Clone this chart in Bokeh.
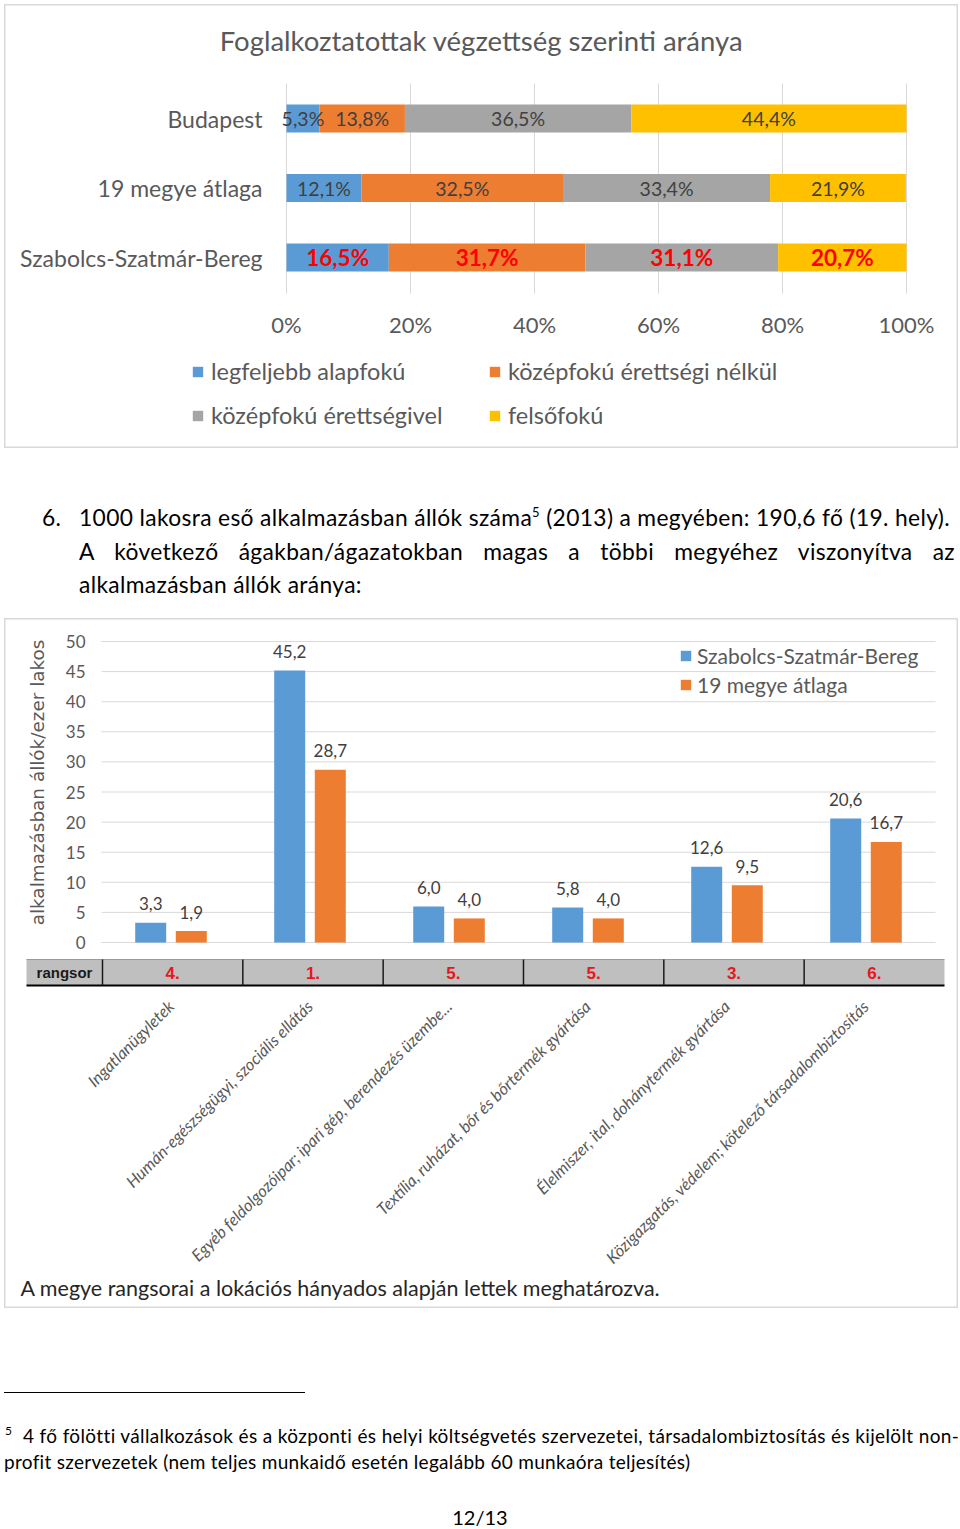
import numpy as np
from math import pi
from bokeh.plotting import figure
from bokeh.layouts import column
from bokeh.models import Range1d, LinearAxis, FixedTicker, ColumnDataSource, Legend, LegendItem, Div
from bokeh.core.properties import value
from bokeh.embed import file_html
from bokeh.resources import INLINE

# ---------------- data: chart 1 ----------------
regions = ["Szabolcs-Szatmár-Bereg", "19 megye átlaga", "Budapest"]
edu_levels = ["legfeljebb alapfokú", "középfokú érettségi nélkül",
              "középfokú érettségivel", "felsőfokú"]
edu_basic = [16.5, 12.1, 5.3]
edu_sec_no_exam = [31.7, 32.5, 13.8]
edu_sec_exam = [31.1, 33.4, 36.5]
edu_higher = [20.7, 21.9, 44.4]
x_ticks_1 = [0, 20, 40, 60, 80, 100]

# ---------------- data: chart 2 ----------------
sectors = ["Ingatlanügyletek",
           "Humán-egészségügyi, szociális ellátás",
           "Egyéb feldolgozóipar; ipari gép, berendezés üzembe...",
           "Textília, ruházat, bőr és bőrtermék gyártása",
           "Élelmiszer, ital, dohánytermék gyártása",
           "Közigazgatás, védelem; kötelező társadalombiztosítás"]
series2 = ["Szabolcs-Szatmár-Bereg", "19 megye átlaga"]
val_szabolcs = [3.3, 45.2, 6.0, 5.8, 12.6, 20.6]
val_avg19 = [1.9, 28.7, 4.0, 4.0, 9.5, 16.7]
ranks = ["4.", "1.", "5.", "5.", "3.", "6."]
y_ticks_2 = [0, 5, 10, 15, 20, 25, 30, 35, 40, 45, 50]


def fmt(v, pct=False):
    s = f"{v:.1f}".replace(".", ",")
    return s + "%" if pct else s


GRAY_TXT = "#595959"
LBL_TXT = "#404040"
FONT = "Lato"
TABLE_FONT = "Liberation Sans"


def no_ticks(ax):
    ax.axis_line_color = None
    ax.major_tick_line_color = None
    ax.minor_tick_line_color = None
    ax.major_tick_out = 0
    ax.major_tick_in = 0
    ax.minor_tick_out = 0
    ax.minor_tick_in = 0


# ======================= chart 1 =======================
W1, H1 = 954, 444


def X1(px):
    return (px - 282) / 620 * 100


def Y1(py):
    return (253 - py) / 69.5


p1 = figure(width=W1, height=H1, x_range=Range1d(X1(0), X1(W1)), y_range=Range1d(Y1(H1), Y1(0)),
            output_backend="svg", toolbar_location=None, min_border=0,
            x_axis_type=None, y_axis_type=None, title_location=None)
p1.margin = (4, 2, 0, 4)
p1.outline_line_color = "#d9d9d9"
p1.outline_line_width = 2
p1.background_fill_color = "white"

p1.segment(x0=x_ticks_1, y0=Y1(79), x1=x_ticks_1, y1=Y1(289), line_color="#d9d9d9", line_width=1)

levels_vals = [edu_basic, edu_sec_no_exam, edu_sec_exam, edu_higher]
colors1 = ["#5b9bd5", "#ed7d31", "#a5a5a5", "#ffc000"]
ypos = np.arange(len(regions))
left = np.zeros(len(regions))
bars1 = []
lab_n = dict(x=[], y=[], t=[])
lab_b = dict(x=[], y=[], t=[])
for k, vals in enumerate(levels_vals):
    v = np.array(vals, dtype=float)
    r = p1.hbar(y=ypos, left=left, right=left + v, height=0.403,
                fill_color=colors1[k], line_color=None)
    bars1.append(r)
    for i in range(len(regions)):
        d = lab_b if i == 0 else lab_n
        d["x"].append(left[i] + v[i] / 2)
        d["y"].append(ypos[i])
        d["t"].append(fmt(v[i], True))
    left = left + v

p1.text(x="x", y="y", text="t", source=ColumnDataSource(lab_n), text_align="center",
        text_baseline="middle", text_font=value(FONT), text_font_size="19.5px", text_color=LBL_TXT)
p1.text(x="x", y="y", text="t", source=ColumnDataSource(lab_b), text_align="center",
        text_baseline="middle", text_font=value(FONT), text_font_size="22.5px",
        text_font_style="bold", text_color="#ff0000")

p1.text(x=[X1(477)], y=[Y1(36)], text=["Foglalkoztatottak végzettség szerinti aránya"],
        text_align="center", text_baseline="middle", text_font=value(FONT),
        text_font_size="27.5px", text_color=GRAY_TXT)

yax1 = LinearAxis(fixed_location=0, ticker=FixedTicker(ticks=list(ypos)),
                  major_label_overrides={int(i): regions[i] for i in ypos})
no_ticks(yax1)
yax1.major_label_standoff = 24
yax1.major_label_text_font = FONT
yax1.major_label_text_font_size = "23px"
yax1.major_label_text_color = GRAY_TXT
p1.add_layout(yax1, "left")

xax1 = LinearAxis(fixed_location=Y1(289), ticker=FixedTicker(ticks=x_ticks_1),
                  major_label_overrides={t: f"{t}%" for t in x_ticks_1})
no_ticks(xax1)
xax1.major_label_standoff = 17
xax1.major_label_text_font = FONT
xax1.major_label_text_font_size = "22px"
xax1.major_label_text_color = GRAY_TXT
p1.add_layout(xax1, "below")

leg1 = Legend(items=[LegendItem(label=edu_levels[k], renderers=[bars1[k]]) for k in range(4)],
              location=(187, 19), orientation="horizontal", ncols=2)
leg1.glyph_width = 13
leg1.glyph_height = 13
leg1.label_standoff = 7
leg1.spacing = 16
leg1.padding = 0
leg1.margin = 0
leg1.label_width = 261
leg1.label_height = 28
leg1.border_line_color = None
leg1.background_fill_alpha = 0
leg1.label_text_font = FONT
leg1.label_text_font_size = "23.5px"
leg1.label_text_color = GRAY_TXT
p1.add_layout(leg1)

# ======================= paragraph =======================
para = """
<div style="position:relative;width:960px;height:170px;font-family:'Lato',sans-serif;color:#000;font-size:22.8px;letter-spacing:0.35px;">
<div style="position:absolute;left:42px;top:54px;line-height:30px;">6.</div>
<div style="position:absolute;left:79px;top:54px;line-height:30px;white-space:nowrap;">1000 lakosra eső alkalmazásban állók száma<sup style="font-size:13px;line-height:0;">5</sup> (2013) a megyében: 190,6 fő (19. hely).</div>
<div style="position:absolute;left:79px;top:88px;width:876px;line-height:30px;text-align:justify;text-align-last:justify;">A következő ágakban/ágazatokban magas a többi megyéhez viszonyítva az</div>
<div style="position:absolute;left:79px;top:121px;line-height:30px;white-space:nowrap;">alkalmazásban állók aránya:</div>
</div>
"""
div1 = Div(text=para, width=960, height=170)
div1.margin = (0, 0, 0, 0)

# ======================= chart 2 =======================
W2, H2 = 954, 690


def X2(px):
    return (px - 166.5) / 139


def Y2(py):
    return (324 - py) / 6.02


p2 = figure(width=W2, height=H2, x_range=Range1d(X2(0), X2(W2)), y_range=Range1d(Y2(H2), Y2(0)),
            output_backend="svg", toolbar_location=None, min_border=0,
            x_axis_type=None, y_axis_type=None, title_location=None)
p2.margin = (0, 2, 0, 4)
p2.outline_line_color = "#d9d9d9"
p2.outline_line_width = 2

p2.segment(x0=X2(97), y0=y_ticks_2, x1=X2(931), y1=y_ticks_2, line_color="#d9d9d9", line_width=1)

idx = np.arange(len(sectors))
off = 0.146
bw = 0.223
b_s = p2.vbar(x=idx - off, top=val_szabolcs, width=bw, fill_color="#5b9bd5", line_color=None)
b_a = p2.vbar(x=idx + off, top=val_avg19, width=bw, fill_color="#ed7d31", line_color=None)

p2.text(x=list(idx - off), y=val_szabolcs, text=[fmt(v) for v in val_szabolcs], y_offset=-19,
        text_align="center", text_baseline="middle", text_font=value(FONT),
        text_font_size="17px", text_color=LBL_TXT)
p2.text(x=list(idx + off), y=val_avg19, text=[fmt(v) for v in val_avg19], y_offset=-19,
        text_align="center", text_baseline="middle", text_font=value(FONT),
        text_font_size="17px", text_color=LBL_TXT)

# rank table
t_top, t_bot = Y2(341), Y2(367)
cell_w = 140.33 / 139
x_first = X2(98)
cell_left = [X2(22)] + [x_first + k * cell_w for k in range(len(sectors))]
cell_right = [x_first] + [x_first + (k + 1) * cell_w for k in range(len(sectors))]
p2.quad(left=cell_left, right=cell_right, top=t_top, bottom=t_bot, fill_color="#bfbfbf", line_color=None)
p2.segment(x0=cell_left[0], y0=t_top, x1=cell_right[-1], y1=t_top, line_color="#9a9a9a", line_width=1)
p2.segment(x0=cell_left[0], y0=t_bot, x1=cell_right[-1], y1=t_bot, line_color="#000000", line_width=2)
p2.segment(x0=cell_right[:-1], y0=t_top, x1=cell_right[:-1], y1=t_bot, line_color="#1a1a1a", line_width=1.5)
cx = [(a + b) / 2 for a, b in zip(cell_left, cell_right)]
p2.text(x=[cx[0]], y=[(t_top + t_bot) / 2], text=["rangsor"], text_align="center", text_baseline="middle",
        text_font=value(TABLE_FONT), text_font_size="15px", text_font_style="bold", text_color="#1a1a1a")
p2.text(x=cx[1:], y=[(t_top + t_bot) / 2] * len(ranks), text=ranks, text_align="center", text_baseline="middle",
        text_font=value(TABLE_FONT), text_font_size="17px", text_font_style="bold", text_color="#e8161c")

p2.text(x=[X2(16)], y=[Y2(669)], text=["A megye rangsorai a lokációs hányados alapján lettek meghatározva."],
        text_align="left", text_baseline="middle", text_font=value(FONT),
        text_font_size="21.5px", text_color="#262626")

yax2 = LinearAxis(fixed_location=X2(97), ticker=FixedTicker(ticks=y_ticks_2), bounds=(0, 53.16),
                  axis_label="alkalmazásban állók/ezer lakos")
no_ticks(yax2)
yax2.major_label_standoff = 16
yax2.major_label_text_font = FONT
yax2.major_label_text_font_size = "17px"
yax2.major_label_text_color = GRAY_TXT
yax2.axis_label_standoff = 15
yax2.axis_label_text_font = "DejaVu Sans"
yax2.axis_label_text_font_size = "18.4px"
yax2.axis_label_text_font_style = "normal"
yax2.axis_label_text_color = GRAY_TXT
p2.add_layout(yax2, "left")

xax2 = LinearAxis(fixed_location=t_bot, ticker=FixedTicker(ticks=list(idx)),
                  major_label_overrides={int(i): sectors[i] for i in idx})
no_ticks(xax2)
xax2.major_label_orientation = pi / 4
xax2.major_label_standoff = 18
xax2.major_label_text_font = FONT
xax2.major_label_text_font_size = "16.5px"
xax2.major_label_text_font_style = "italic"
xax2.major_label_text_color = GRAY_TXT
p2.add_layout(xax2, "below")

leg2 = Legend(items=[LegendItem(label=series2[0], renderers=[b_s]),
                     LegendItem(label=series2[1], renderers=[b_a])],
              location=(675, 611), orientation="vertical")
leg2.glyph_width = 13
leg2.glyph_height = 13
leg2.label_standoff = 5
leg2.spacing = 4
leg2.padding = 0
leg2.margin = 0
leg2.label_height = 24
leg2.border_line_color = None
leg2.background_fill_alpha = 0
leg2.label_text_font = FONT
leg2.label_text_font_size = "21px"
leg2.label_text_color = GRAY_TXT
p2.add_layout(leg2)

# ======================= footnote =======================
foot = """
<div style="position:relative;width:960px;height:221px;font-family:'Lato',sans-serif;color:#000;">
<div style="position:absolute;left:4px;top:84px;width:301px;height:0;border-top:1px solid #000;"></div>
<div style="position:absolute;left:5px;top:116px;font-size:12px;line-height:14px;">5</div>
<div style="position:absolute;left:23px;top:115px;font-size:19px;line-height:26px;letter-spacing:0.36px;white-space:nowrap;">4 fő fölötti vállalkozások és a központi és helyi költségvetés szervezetei, társadalombiztosítás és kijelölt non-</div>
<div style="position:absolute;left:4px;top:141px;font-size:19px;line-height:26px;letter-spacing:0.3px;white-space:nowrap;">profit szervezetek (nem teljes munkaidő esetén legalább 60 munkaóra teljesítés)</div>
<div style="position:absolute;left:0;top:197px;width:960px;text-align:center;font-size:20px;line-height:24px;">12/13</div>
</div>
"""
div2 = Div(text=foot, width=960, height=221)
div2.margin = (0, 0, 0, 0)

layout = column(p1, div1, p2, div2, spacing=0)
open("out.html", "w").write(file_html(layout, INLINE))
